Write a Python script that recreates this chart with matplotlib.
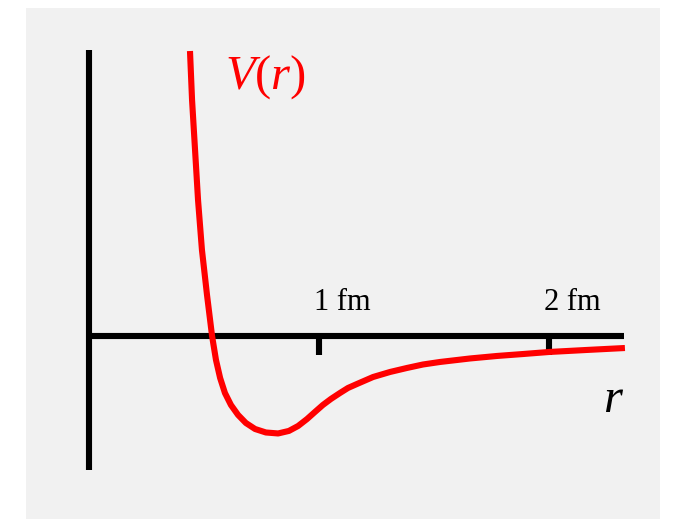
import numpy as np
import matplotlib
matplotlib.use("Agg")
import matplotlib.pyplot as plt
from matplotlib.patches import Rectangle

# nuclear potential V(r): r in fm, V in MeV
r_fm = [0.437, 0.446, 0.459, 0.472, 0.489, 0.511, 0.533, 0.550, 0.568, 0.589,
        0.615, 0.646, 0.680, 0.720, 0.767, 0.820, 0.867, 0.907, 0.946, 0.980,
        1.015, 1.050, 1.089, 1.124, 1.163, 1.233, 1.307, 1.380, 1.450, 1.524,
        1.654, 1.772, 1.885, 1.998, 2.163, 2.328]
v_mev = [293.8, 243.3, 191.8, 140.2, 88.7, 42.3, 0, -24.7, -43.3, -58.8,
         -71.1, -81.4, -89.7, -95.9, -99.5, -100.5, -97.9, -92.8, -85.6, -78.4,
         -71.1, -64.9, -58.8, -53.6, -49.5, -42.3, -37.1, -33.0, -29.4, -26.8,
         -23.2, -20.6, -18.6, -16.5, -14.4, -12.4]

tick_pos = [1, 2]
tick_labels = ["1 fm", "2 fm"]

plt.rcParams['mathtext.fontset'] = 'custom'
plt.rcParams['mathtext.rm'] = 'Liberation Serif'
plt.rcParams['mathtext.it'] = 'Liberation Serif:italic'

fig = plt.figure(figsize=(6.73, 5.19), dpi=100)
fig.patch.set_facecolor('white')
fig.patches.append(Rectangle((26/673, 0), 634/673, 511/519, transform=fig.transFigure,
                             facecolor='#f1f1f1', edgecolor='none', zorder=-1))

ax = fig.add_axes([0, 0, 1, 1])
ax.set_axis_off()
ax.patch.set_alpha(0)
ax.set_xlim(-0.389, 2.537)
ax.set_ylim(-188.7, 346.4)

lw = 4.4
# axes
ax.plot([0, 0], [295, -138], color='black', lw=lw, solid_capstyle='butt')
ax.plot([0, 2.326], [0, 0], color='black', lw=lw, solid_capstyle='butt')
for t, lab in zip(tick_pos, tick_labels):
    ax.plot([t, t], [0, -19.6], color='black', lw=lw, solid_capstyle='butt')
    ax.text(t - 0.024, 26.8, lab, family='Liberation Serif', fontsize=22,
            ha='left', va='baseline')

# potential curve
ax.plot(r_fm, v_mev, color='#ff0000', lw=lw, solid_capstyle='butt',
        solid_joinstyle='round')

ax.text(0.589, 254.6, r'$V(r)$', color='#ff0000', fontsize=35,
        ha='left', va='baseline')
ax.text(2.233, -78.4, 'r', family='Liberation Serif', fontstyle='italic',
        fontsize=35, ha='left', va='baseline')

fig.savefig('out.png', dpi=100)
